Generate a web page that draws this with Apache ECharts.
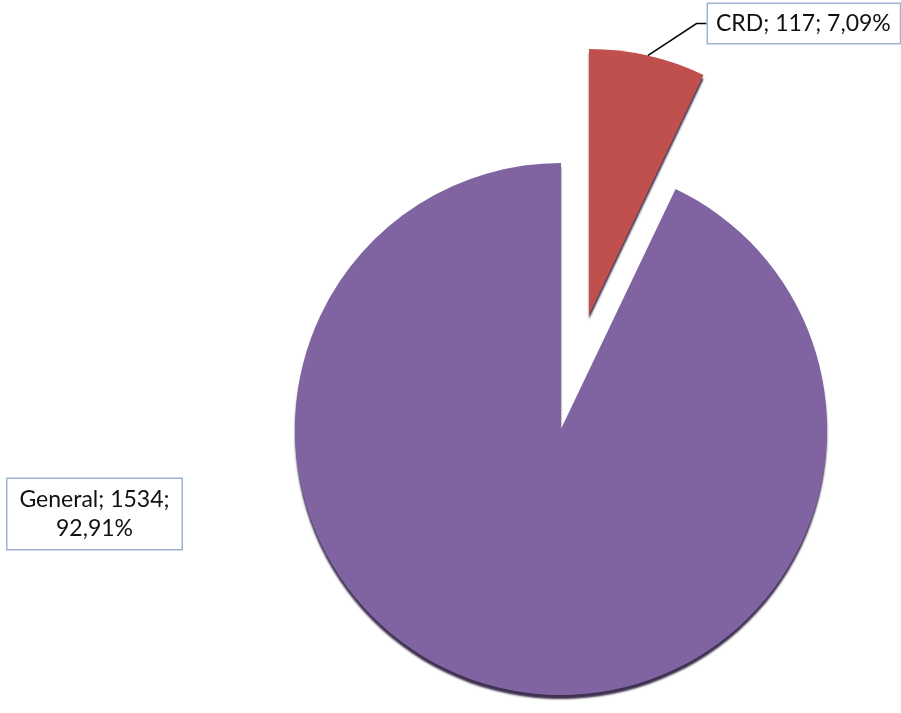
<!DOCTYPE html>
<html>
<head>
<meta charset="utf-8">
<script src="https://cdn.jsdelivr.net/npm/echarts@6/dist/echarts.min.js"></script>
<style>html,body{margin:0;padding:0;background:#fff;}#c{width:901px;height:713px;}</style>
</head>
<body>
<div id="c"></div>
<script>
const categories = ['CRD', 'General'];
const values = [117, 1534];
const colors = ['#C0504D', '#8064A2'];
const explodedIndex = 0;

const chart = echarts.init(document.getElementById('c'), null, {renderer: 'canvas'});
const total = values.reduce((a, b) => a + b, 0);
function pct(v) { return (v / total * 100).toFixed(2).replace('.', ','); }

const baseLabel = {
  show: true,
  position: 'outside',
  fontFamily: 'Lato',
  fontSize: 23,
  color: '#111',
  backgroundColor: '#fff',
  borderColor: '#9fb3d1',
  borderWidth: 1.5
};

function buildData(visibleIndex) {
  return categories.map(function (name, i) {
    const show = (i === visibleIndex);
    return {
      name: name,
      value: values[i],
      itemStyle: show ? {color: colors[i]} : {color: 'rgba(0,0,0,0)', shadowColor: 'rgba(0,0,0,0)'},
      label: {show: show},
      labelLine: {show: false}
    };
  });
}

const crdData = buildData(explodedIndex);
crdData[explodedIndex].label = Object.assign({}, baseLabel, {
  formatter: function (p) { return p.name + '; ' + p.value + '; ' + pct(p.value) + '%'; },
  padding: [7, 9, 7, 8],
  lineHeight: 25
});
crdData[explodedIndex].labelLine = {show: true, length: 20, length2: 10, lineStyle: {color: '#000', width: 1.5}};

const genData = buildData(1);
genData[1].label = Object.assign({}, baseLabel, {
  formatter: function (p) { return p.name + '; ' + p.value + ';\n' + pct(p.value) + '%'; },
  padding: [6, 7, 6, 7],
  lineHeight: 29,
  width: 160,
  overflow: 'none'
});

const common = {
  type: 'pie',
  radius: 266,
  startAngle: 90,
  clockwise: true,
  selectedMode: false,
  avoidLabelOverlap: false,
  silent: true,
  emphasis: {disabled: true},
  itemStyle: {
    shadowColor: 'rgba(40,25,60,0.9)',
    shadowOffsetY: 4,
    shadowBlur: 2
  }
};

chart.setOption({
  animation: false,
  backgroundColor: '#ffffff',
  series: [
    Object.assign({}, common, {
      name: 'main',
      center: [561, 429],
      data: genData,
      labelLayout: function () {
        return {x: 94.5, y: 479, align: 'center', verticalAlign: 'top'};
      }
    }),
    Object.assign({}, common, {
      name: 'exploded',
      center: [589, 315],
      data: crdData,
      labelLayout: function () {
        return {x: 708, y: 4, align: 'left', verticalAlign: 'top'};
      }
    })
  ]
});
</script>
</body>
</html>
